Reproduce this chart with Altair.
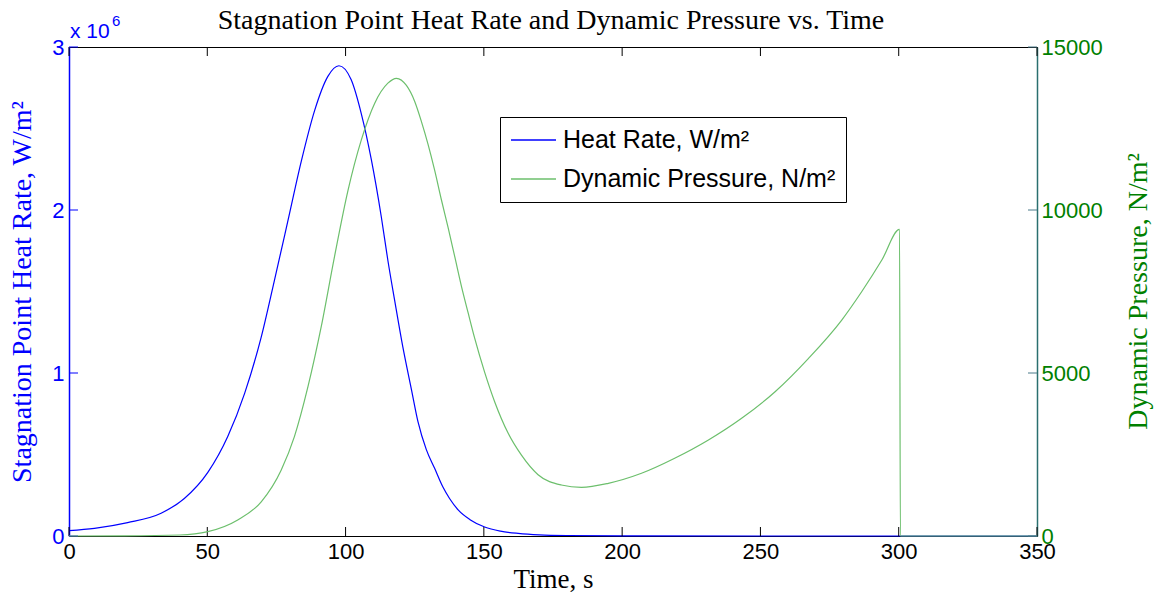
import altair as alt
import pandas as pd

# ---- data ----
time_heat = [0, 9.2, 21.2, 33.3, 41.7, 50.2, 57.4, 63.5, 69.5, 74.3, 79.1, 84.0, 88.8,
             93.6, 97.6, 102.0, 105.7, 109.3, 112.9, 115.3, 117.7, 120.7, 123.8, 126.2,
             129.2, 132.2, 135.2, 137.6, 140.7, 145.0, 150.3, 156.0, 162.4, 170, 180,
             200, 250, 300, 350]
heat_rate_e6 = [0.033, 0.047, 0.082, 0.14, 0.23, 0.39, 0.61, 0.875, 1.22, 1.57, 1.93, 2.30, 2.61,
                2.82, 2.885, 2.80, 2.59, 2.31, 1.96, 1.69, 1.45, 1.16, 0.90, 0.70,
                0.53, 0.415, 0.30, 0.23, 0.16, 0.10, 0.055, 0.03, 0.016, 0.007, 0.003,
                0.001, 0.0, 0.0, 0.0]

time_press = [0, 20, 40, 50.2, 61.0, 69.5, 76.7, 81.5, 86.4, 91.2, 96.0, 100.9, 105.7, 110.5,
              115.3, 118.4, 122.0, 125.0, 127.4, 129.8, 132.2, 134.6, 137.1, 139.5, 141.9,
              144.3, 146.7, 150.3, 153.9, 158.8, 163.6, 169.6, 178.0, 185.3, 195.0, 207.0,
              219.0, 231.2, 243.2, 255.3, 267.4, 279.4, 286.6, 293.9, 300.3, 300.6, 350]
dyn_press = [0, 5, 30, 132, 490, 1050, 2020, 3050, 4580, 6420, 8570, 10610, 12150, 13270,
             13890, 14040, 13820, 13330, 12720, 12020, 11220, 10330, 9450, 8560, 7660,
             6850, 6060, 5020, 4120, 3150, 2480, 1880, 1565, 1493, 1616, 1923,
             2383, 2944, 3610, 4426, 5450, 6625, 7493, 8465, 9406, 0, 0]

x_tick_values = [0, 50, 100, 150, 200, 250, 300, 350]
heat_tick_values = [0, 1000000, 2000000, 3000000]
press_tick_values = [0, 5000, 10000, 15000]

TITLE = "Stagnation Point Heat Rate and Dynamic Pressure vs. Time"
HEAT = "Heat Rate, W/m²"
PRESS = "Dynamic Pressure, N/m²"

heat_df = pd.DataFrame({"t": time_heat, "v": [h * 1e6 for h in heat_rate_e6], "s": HEAT})
press_df = pd.DataFrame({"t": time_press, "v": dyn_press, "s": PRESS})
xt_df = pd.DataFrame({"t": x_tick_values})
ht_df = pd.DataFrame({"v": heat_tick_values})
pt_df = pd.DataFrame({"v": press_tick_values})
one = pd.DataFrame({"a": [0]})

W, H = 968, 489
TL = 9
BLUE = "#0000ff"
GREEN_LINE = "#6cbf6c"
GREEN_TXT = "#008000"
SANS = "Liberation Sans"
SERIF = "Liberation Serif"

xscale = alt.Scale(domain=[0, 350], nice=False, zero=False)
color = alt.Color(
    "s:N",
    scale=alt.Scale(domain=[HEAT, PRESS], range=[BLUE, GREEN_LINE]),
    legend=alt.Legend(
        title=None, orient="none", legendX=431, legendY=70, direction="vertical",
        symbolType="M-1.875,0H1.875", symbolSize=576, symbolStrokeWidth=1.6,
        symbolOffset=10.5,
        labelFont=SANS, labelFontSize=25, labelColor="black", labelLimit=0,
        labelOffset=16.5, padding=10, rowPadding=13,
        strokeColor="black", fillColor="white",
    ),
)

x_enc = alt.X(
    "t:Q", scale=xscale,
    axis=alt.Axis(
        values=x_tick_values, title="Time, s", labelFont=SANS, labelFontSize=22,
        labelColor="black", ticks=False, domain=False, labelPadding=5,
        labelFlush=False, labelOverlap=False, grid=False,
        titleFont=SERIF, titleFontSize=27, titleFontWeight="normal",
        titleColor="black", titlePadding=4,
    ),
)

heat_line = alt.Chart(heat_df).mark_line(strokeWidth=1.2, interpolate="monotone").encode(
    x=x_enc,
    y=alt.Y(
        "v:Q", scale=alt.Scale(domain=[0, 3000000], nice=False),
        axis=alt.Axis(
            orient="left", values=heat_tick_values, labelExpr="datum.value / 1000000",
            title="Stagnation Point Heat Rate, W/m²", labelFont=SANS, labelFontSize=22,
            labelColor=BLUE, ticks=False, domainColor=BLUE, domainWidth=1.5,
            labelPadding=5, labelFlush=False, grid=False,
            titleFont=SERIF, titleFontSize=28, titleFontWeight="normal",
            titleColor=BLUE, titlePadding=15,
        ),
    ),
    color=color,
)

x_ticks_bottom = alt.Chart(xt_df).mark_rule(color="black", strokeWidth=1).encode(
    x="t:Q", y=alt.value(H), y2=alt.value(H - TL))
x_ticks_top = alt.Chart(xt_df).mark_rule(color="black", strokeWidth=1).encode(
    x="t:Q", y=alt.value(0), y2=alt.value(TL))
left_ticks = alt.Chart(ht_df).mark_rule(color=BLUE, strokeWidth=1).encode(
    y="v:Q", x=alt.value(0), x2=alt.value(TL))

exp_base = alt.Chart(one).mark_text(
    font=SANS, fontSize=21, color=BLUE, align="left", baseline="alphabetic"
).encode(x=alt.value(1), y=alt.value(-9), text=alt.value("x 10"))
exp_sup = alt.Chart(one).mark_text(
    font=SANS, fontSize=15, color=BLUE, align="left", baseline="alphabetic"
).encode(x=alt.value(43), y=alt.value(-21), text=alt.value("6"))

title_text = alt.Chart(one).mark_text(
    font=SERIF, fontSize=28, color="black", align="center", baseline="alphabetic"
).encode(x=alt.value(482), y=alt.value(-18), text=alt.value(TITLE))

layer_heat = alt.layer(heat_line, x_ticks_bottom, x_ticks_top, left_ticks,
                       exp_base, exp_sup, title_text)

press_line = alt.Chart(press_df).mark_line(strokeWidth=1.2, interpolate="monotone").encode(
    x=alt.X("t:Q", scale=xscale),
    y=alt.Y(
        "v:Q", scale=alt.Scale(domain=[0, 15000], nice=False),
        axis=alt.Axis(
            orient="right", values=press_tick_values, format="d",
            title="Dynamic Pressure, N/m²", labelFont=SANS, labelFontSize=22,
            labelColor=GREEN_TXT, ticks=False, domainColor="#2a6f6f", domainWidth=1.5,
            labelPadding=4, labelFlush=False, grid=False,
            titleFont=SERIF, titleFontSize=28, titleFontWeight="normal",
            titleColor=GREEN_TXT, titleAngle=270, titleX=101, titleY=244,
            titleAlign="center", titleBaseline="middle",
        ),
    ),
    color=color,
)
right_ticks = alt.Chart(pt_df).mark_rule(color="#4a7a8a", strokeWidth=1).encode(
    y="v:Q", x=alt.value(W - TL), x2=alt.value(W))

layer_press = alt.layer(press_line, right_ticks)

chart = alt.layer(layer_heat, layer_press).resolve_scale(y="independent").properties(
    width=W, height=H,
    padding={"left": 69, "top": 47, "right": 126, "bottom": 66},
    autosize="none",
    background="white",
).configure_view(stroke="black", strokeWidth=1)

chart.save("out.html", embed_options={"renderer": "svg", "actions": False})
